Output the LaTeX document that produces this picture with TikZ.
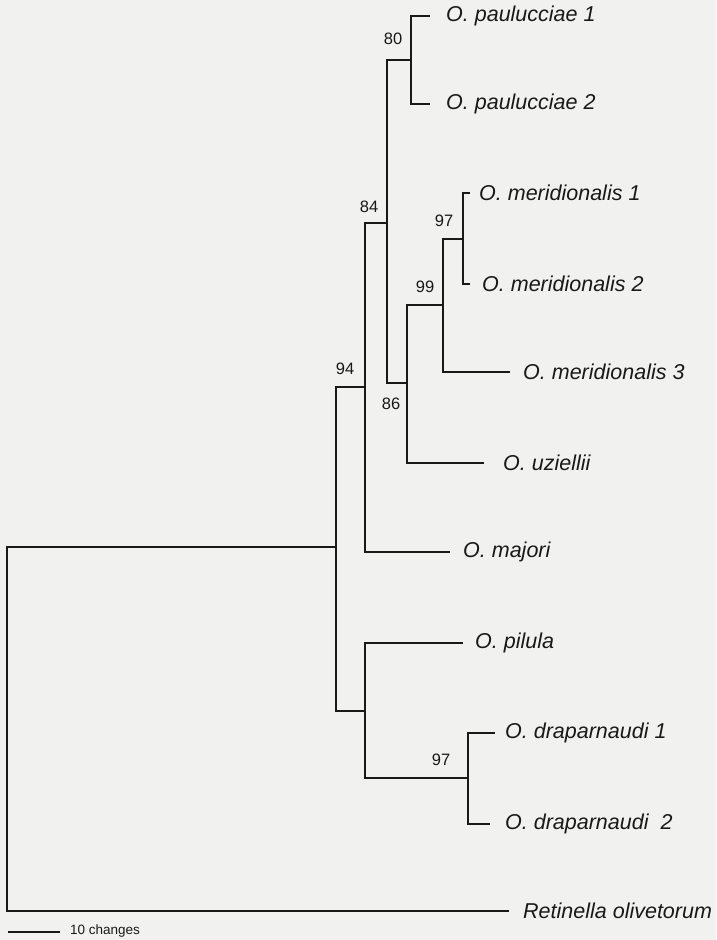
\documentclass[tikz,border=0pt]{standalone}
\usepackage{fontspec}
\setmainfont{Liberation Sans}
\definecolor{bgcol}{RGB}{241,241,240}
\definecolor{ink}{RGB}{25,25,25}
\begin{document}
\begin{tikzpicture}[x=1pt,y=-1pt,
  branch/.style={draw=ink,line width=2.2pt,line cap=rect},
  taxon/.style={anchor=west,inner sep=0pt,text=ink,font=\fontsize{21.5}{25}\selectfont\itshape},
  boot/.style={inner sep=0pt,text=ink,font=\fontsize{16.5}{20}\selectfont},
  scaletext/.style={anchor=west,inner sep=0pt,text=ink,font=\fontsize{13.5}{16}\selectfont}]
\fill[bgcol] (0,0) rectangle (716,940);
\useasboundingbox (0,0) rectangle (716,940);
% internal nodes
\coordinate (R) at (7,547);
\coordinate (A) at (336,547);
\coordinate (N94) at (365,387);
\coordinate (N84) at (387,223);
\coordinate (N80) at (411,60);
\coordinate (N86) at (407,383);
\coordinate (N99) at (443,305);
\coordinate (N97m) at (463,239);
\coordinate (P) at (365,711);
\coordinate (N97d) at (468,778);
% tips
\coordinate (tpau1) at (429,16);
\coordinate (tpau2) at (429,104);
\coordinate (tmer1) at (469,193);
\coordinate (tmer2) at (469,284);
\coordinate (tmer3) at (509,372);
\coordinate (tuzi) at (483,463);
\coordinate (tmaj) at (449,552);
\coordinate (tpil) at (462,643);
\coordinate (tdra1) at (494,733);
\coordinate (tdra2) at (489,824);
\coordinate (tret) at (508,911);
% branches
\draw[branch] (R) |- (A);
\draw[branch] (R) |- (tret);
\draw[branch] (A) |- (N94);
\draw[branch] (A) |- (P);
\draw[branch] (N94) |- (N84);
\draw[branch] (N94) |- (tmaj);
\draw[branch] (N84) |- (N80);
\draw[branch] (N84) |- (N86);
\draw[branch] (N80) |- (tpau1);
\draw[branch] (N80) |- (tpau2);
\draw[branch] (N86) |- (N99);
\draw[branch] (N86) |- (tuzi);
\draw[branch] (N99) |- (N97m);
\draw[branch] (N99) |- (tmer3);
\draw[branch] (N97m) |- (tmer1);
\draw[branch] (N97m) |- (tmer2);
\draw[branch] (P) |- (tpil);
\draw[branch] (P) |- (N97d);
\draw[branch] (N97d) |- (tdra1);
\draw[branch] (N97d) |- (tdra2);
% taxon labels
\node[taxon] (lpau1) at (446,16) {O. paulucciae 1};
\node[taxon] (lpau2) at (446,104) {O. paulucciae 2};
\node[taxon] (lmer1) at (479,193) {O. meridionalis 1};
\node[taxon] (lmer2) at (482,284) {O. meridionalis 2};
\node[taxon] (lmer3) at (523,372) {O. meridionalis 3};
\node[taxon] (luzi) at (503,463) {O. uziellii};
\node[taxon] (lmaj) at (463,552) {O. majori};
\node[taxon] (lpil) at (475,643) {O. pilula};
\node[taxon] (ldra1) at (505,733) {O. draparnaudi 1};
\node[taxon] (ldra2) at (505,824) {O. draparnaudi\ \ 2};
\node[taxon] (lret) at (523,911) {Retinella olivetorum};
% bootstrap values
\node[boot] (b80) at (393,39) {80};
\node[boot] (b84) at (369,207) {84};
\node[boot] (b97m) at (444,221) {97};
\node[boot] (b99) at (425,287) {99};
\node[boot] (b86) at (391,404) {86};
\node[boot] (b94) at (345,369) {94};
\node[boot] (b97d) at (441,760) {97};
% scale bar
\coordinate (sb1) at (8,932);
\coordinate (sb2) at (60,932);
\draw[draw=ink,line width=1.2pt] (sb1) -- (sb2);
\node[scaletext] (sbl) at (70,931) {10 changes};
\end{tikzpicture}
\end{document}
